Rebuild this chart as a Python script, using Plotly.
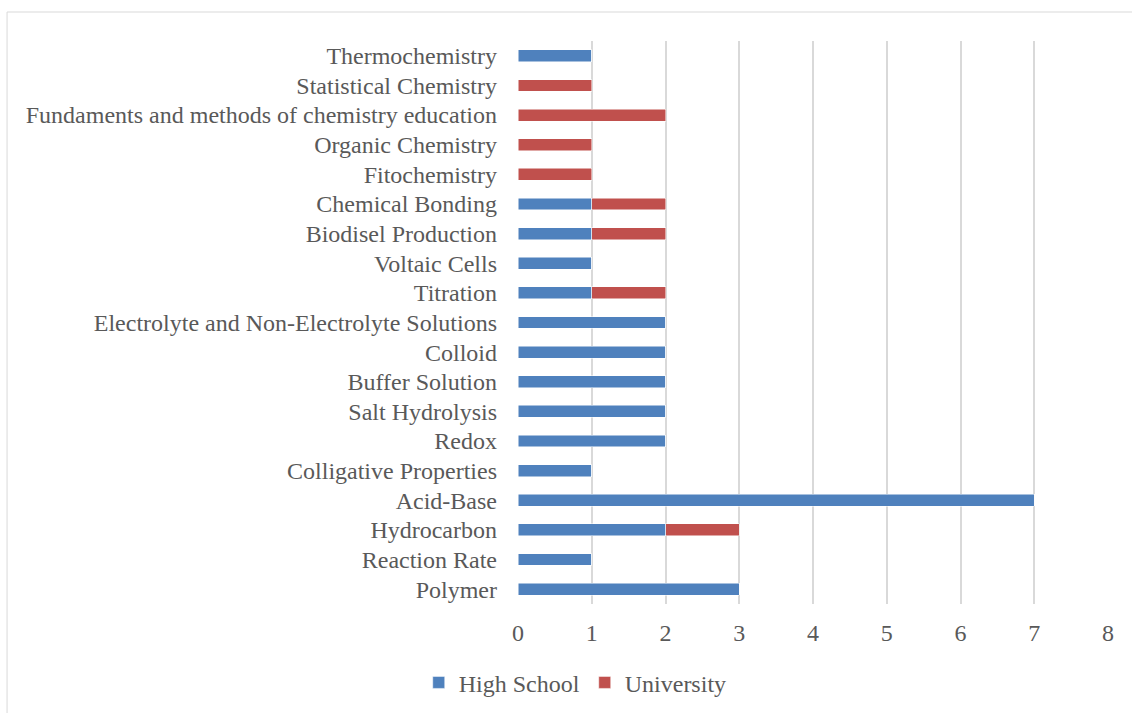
import plotly.graph_objects as go

categories = [
    "Polymer", "Reaction Rate", "Hydrocarbon", "Acid-Base", "Colligative Properties",
    "Redox", "Salt Hydrolysis", "Buffer Solution", "Colloid",
    "Electrolyte and Non-Electrolyte Solutions", "Titration", "Voltaic Cells",
    "Biodisel Production", "Chemical Bonding", "Fitochemistry", "Organic Chemistry",
    "Fundaments and methods of chemistry education", "Statistical Chemistry", "Thermochemistry",
]
high_school = [3, 1, 2, 7, 1, 2, 2, 2, 2, 2, 1, 1, 1, 1, 0, 0, 0, 0, 1]
university = [0, 0, 1, 0, 0, 0, 0, 0, 0, 0, 1, 0, 1, 1, 1, 1, 2, 1, 0]
x_ticks = [0, 1, 2, 3, 4, 5, 6, 7, 8]

FONT = "Liberation Serif, Times New Roman, serif"
TXT = "#595959"

fig = go.Figure()
fig.add_trace(go.Bar(y=categories, x=high_school, name="High School", orientation="h",
                     marker=dict(color="#4F81BD", line=dict(color="white", width=0.5))))
fig.add_trace(go.Bar(y=categories, x=university, name="University", orientation="h",
                     marker=dict(color="#C0504D", line=dict(color="white", width=0.5))))

fig.update_layout(
    barmode="stack",
    bargap=0.6,
    width=1132, height=713,
    margin=dict(l=518, r=24, t=41, b=109, autoexpand=False),
    paper_bgcolor="white", plot_bgcolor="white",
    font=dict(family=FONT, size=24, color=TXT),
    showlegend=True,
    legend=dict(orientation="h", x=0.097, xanchor="center", y=-0.14, yanchor="middle",
                font=dict(family=FONT, size=24, color=TXT), itemwidth=30,
                traceorder="normal"),
    xaxis=dict(range=[0, 8], tickvals=x_ticks, showgrid=True, gridcolor="#D9D9D9",
               gridwidth=1.5, zeroline=False, showline=False, ticks="", automargin=False,
               ticklabelstandoff=12, tickfont=dict(family=FONT, size=24, color=TXT)),
    yaxis=dict(categoryorder="array", categoryarray=categories, showgrid=False,
               zeroline=False, showline=False, ticks="", ticklabelstandoff=20, automargin=False,
               tickfont=dict(family=FONT, size=24, color=TXT)),
    shapes=[dict(type="rect", xref="paper", yref="paper", x0=-0.866, x1=1.3,
                 y0=-0.5, y1=1.0515, line=dict(color="#D9D9D9", width=1),
                 fillcolor="rgba(0,0,0,0)", layer="below")],
)

fig.write_html("out.html", config={"displayModeBar": False},
               post_script="document.body.style.margin='0';")
